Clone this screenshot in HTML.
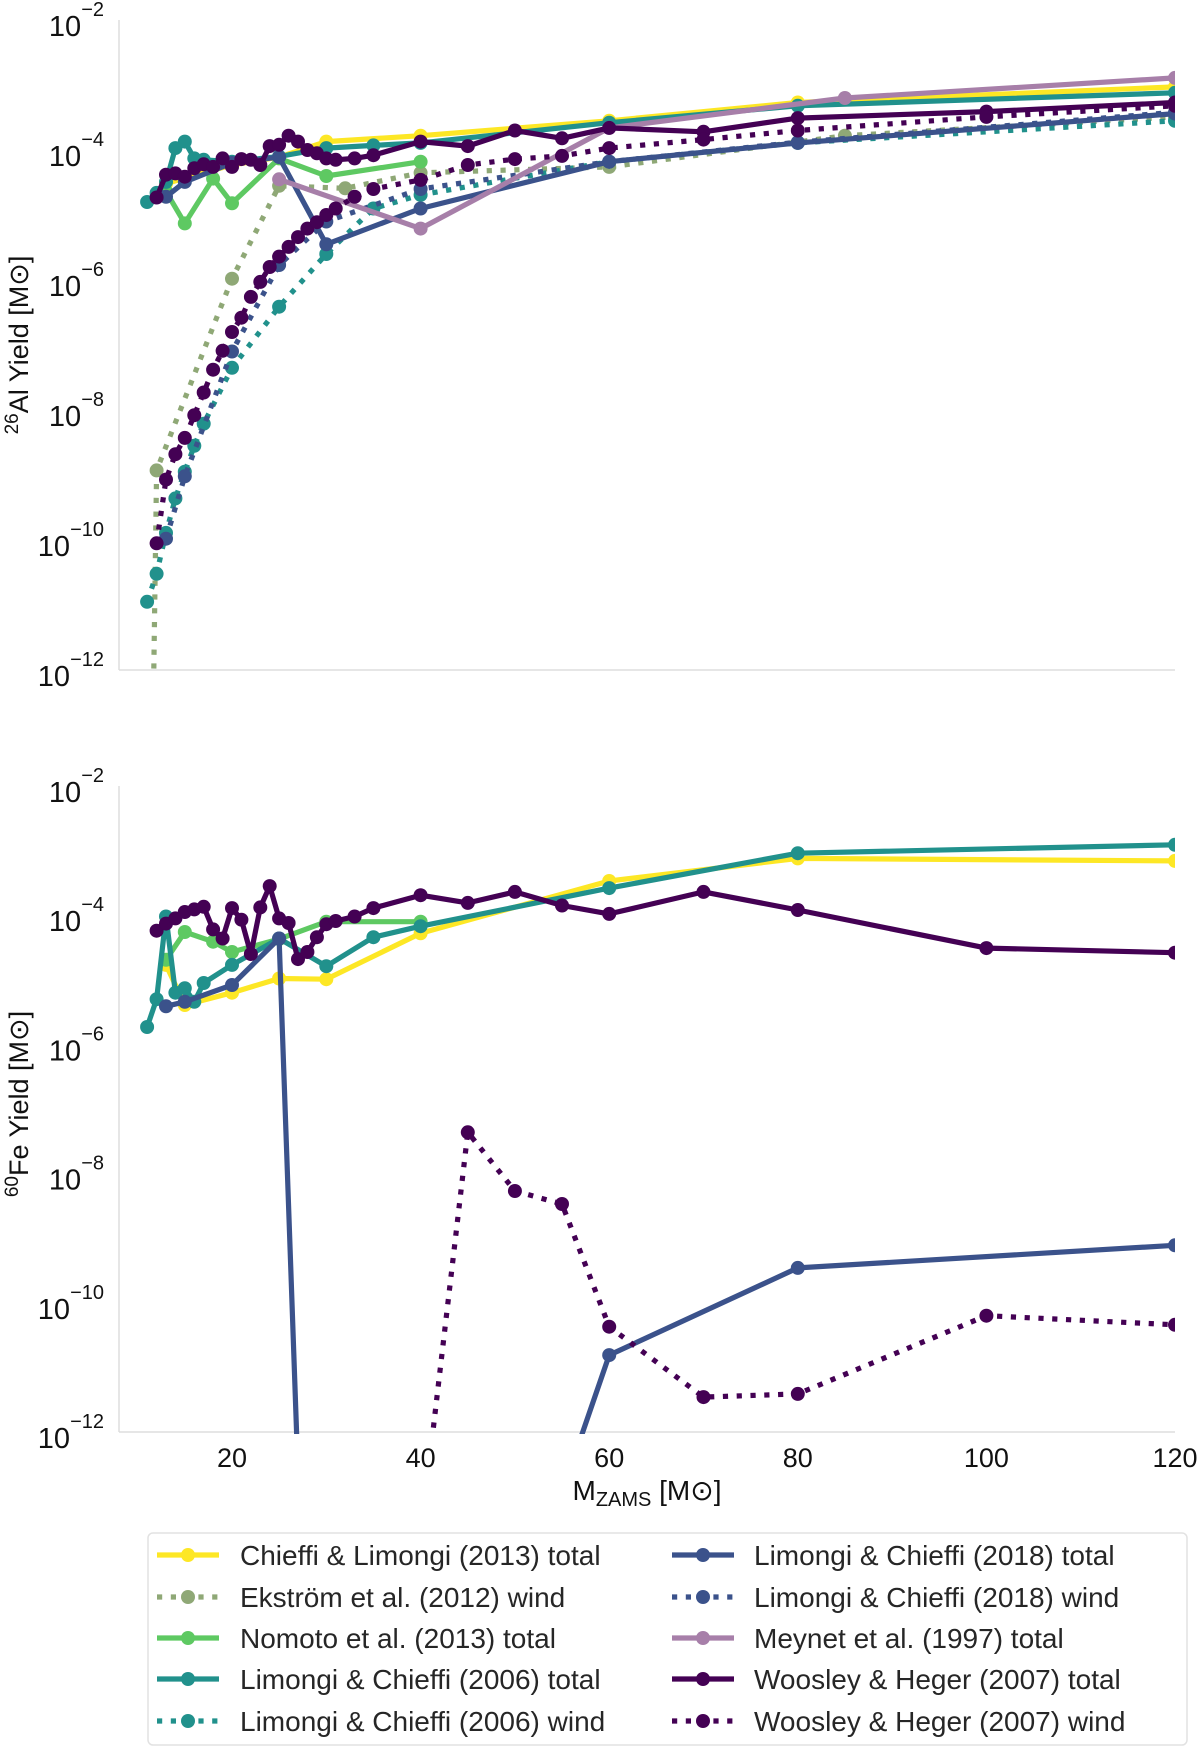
<!DOCTYPE html>
<html><head><meta charset="utf-8"><style>
html,body{margin:0;padding:0;background:#fff;overflow:hidden;width:1200px;height:1750px;}
svg{display:block;font-family:"Liberation Sans",sans-serif;}
</style></head><body>
<svg id="fig" width="1200" height="1750" viewBox="0 0 1200 1750" xmlns="http://www.w3.org/2000/svg">
<defs>
<clipPath id="clipTop"><rect x="119" y="10" width="1056" height="662"/></clipPath>
<clipPath id="clipBot"><rect x="119" y="770" width="1056" height="664"/></clipPath>
</defs>
<g id="gTop"></g>
<g id="gBot"></g>
<g id="gLegend"></g>
</svg>
<script>
// masses (M_ZAMS) and log10 yields
const chieffiM=[13,15,20,25,30,40,60,80,120];
const chieffiAl=[-4.52,-4.43,-4.23,-4.11,-3.87,-3.78,-3.55,-3.27,-3.03];
const chieffiFe=[-4.77,-5.39,-5.20,-4.98,-4.99,-4.28,-3.47,-3.12,-3.16];
const ekstromM=[9,12,20,25,32,40,60,85,120];
const ekstromWindAl=[-40,-8.93,-5.98,-4.55,-4.59,-4.35,-4.26,-3.78,-3.49];
const nomotoM=[13,15,18,20,25,30,40];
const nomotoAl=[-4.64,-5.13,-4.44,-4.82,-4.13,-4.40,-4.18];
const nomotoFe=[-4.69,-4.26,-4.41,-4.57,-4.37,-4.10,-4.10];
const lc06M=[11,12,13,14,15,16,17,20,25,30,35,40,60,80,120];
const lc06Al=[-4.80,-4.66,-4.49,-3.97,-3.87,-4.13,-4.15,-4.18,-4.10,-3.97,-3.93,-3.89,-3.58,-3.32,-3.12];
const lc06WindAl=[-10.95,-10.52,-9.89,-9.36,-8.95,-8.55,-8.21,-7.35,-6.41,-5.60,-4.90,-4.69,-4.18,-3.89,-3.55];
const lc06Fe=[-5.73,-5.30,-4.02,-5.20,-5.13,-5.34,-5.05,-4.77,-4.36,-4.79,-4.34,-4.17,-3.58,-3.04,-2.91];
const lc18M=[13,15,20,25,30,40,60,80,120];
const lc18Al=[-4.72,-4.49,-4.20,-4.11,-5.45,-4.90,-4.18,-3.89,-3.44];
const lc18WindAl=[-9.98,-9.02,-7.1,-5.77,-5.1,-4.6,-4.18,-3.88,-3.42];
const lc18Fe=[-5.41,-5.34,-5.08,-4.36,-25.0,-19.3,-10.81,-9.46,-9.11];
const meynetM=[25,40,60,85,120];
const meynetAl=[-4.45,-5.21,-3.66,-3.20,-2.89];
const whM=[12,13,14,15,16,17,18,19,20,21,22,23,24,25,26,27,28,29,30,31,33,35,40,45,50,55,60,70,80,100,120];
const whAl=[-4.73,-4.38,-4.36,-4.41,-4.28,-4.22,-4.26,-4.13,-4.26,-4.14,-4.15,-4.23,-3.94,-3.92,-3.78,-3.87,-4.00,-4.05,-4.13,-4.15,-4.13,-4.08,-3.87,-3.94,-3.70,-3.82,-3.66,-3.72,-3.51,-3.41,-3.27];
const whWindAl=[-10.05,-9.07,-8.68,-8.43,-8.08,-7.73,-7.38,-7.09,-6.80,-6.58,-6.26,-6.03,-5.80,-5.64,-5.49,-5.34,-5.21,-5.11,-5.00,-4.90,-4.72,-4.60,-4.46,-4.23,-4.14,-4.09,-3.97,-3.84,-3.70,-3.49,-3.32];
const whFe=[-4.24,-4.13,-4.05,-3.95,-3.91,-3.87,-4.22,-4.36,-3.89,-4.07,-4.60,-3.88,-3.55,-4.05,-4.12,-4.68,-4.57,-4.34,-4.14,-4.09,-4.02,-3.89,-3.69,-3.81,-3.64,-3.85,-3.98,-3.64,-3.92,-4.51,-4.58];
const whWindFeM=[40,45,50,55,60,70,80,100,120];
const whWindFe=[-13.63,-7.36,-8.27,-8.47,-10.37,-11.46,-11.41,-10.2,-10.34];
const xTicks=[20,40,60,80,100,120];
const yTickExp=[-2,-4,-6,-8,-10,-12];
const legendLabels=["Chieffi & Limongi (2013) total","Ekström et al. (2012) wind","Nomoto et al. (2013) total","Limongi & Chieffi (2006) total","Limongi & Chieffi (2006) wind","Limongi & Chieffi (2018) total","Limongi & Chieffi (2018) wind","Meynet et al. (1997) total","Woosley & Heger (2007) total","Woosley & Heger (2007) wind"];

const C={ch:"#fde725",ek:"#8fa876",no:"#5ec962",lc06:"#21918c",lc18:"#3b528b",me:"#a77fa9",wh:"#440154"};
const NS="http://www.w3.org/2000/svg";
const LW=5.2, MR=7;
function xS(m){return 232+(m-20)*9.43;}
function yTop(l){return 670-(l+12)*65;}
function yBot(l){return 1432-(l+12)*64.6;}
function mk(tag,attrs,parent){const e=document.createElementNS(NS,tag);for(const k in attrs)e.setAttribute(k,attrs[k]);parent.appendChild(e);return e;}

function series(parent,ms,vals,yf,color,dotted,name){
  const g=mk('g',{},parent);
  
  
  const pts=ms.map((m,i)=>xS(m).toFixed(1)+','+yf(vals[i]).toFixed(1)).join(' ');
  const pl=mk('polyline',{points:pts,fill:'none',stroke:color,'stroke-width':LW,'stroke-linejoin':'round'},g);
  if(dotted)pl.setAttribute('stroke-dasharray','5.2 8.6');
  
  
  ms.forEach((m,i)=>{
    const c=mk('circle',{cx:xS(m).toFixed(1),cy:yf(vals[i]).toFixed(1),r:MR,fill:color},g);
    
    
  });
}

function axes(parent,yf,top,bottom,showX){
  const l=mk('line',{x1:119,y1:top,x2:119,y2:bottom,stroke:'#dddddd','stroke-width':1.5},parent);
  
  
  const b=mk('line',{x1:119,y1:bottom,x2:1175,y2:bottom,stroke:'#dddddd','stroke-width':1.5},parent);
  
  
  yTickExp.forEach(e=>{
    const t=mk('text',{x:104,y:(yf(e)+16).toFixed(1),'text-anchor':'end','font-size':29,fill:'#111'},parent);
    
    
    t.appendChild(document.createTextNode('10'));
    const s=mk('tspan',{dy:-20,'font-size':20},t);
    s.textContent='\u2212'+(-e);
  });
  if(showX){
    xTicks.forEach(v=>{
      const t=mk('text',{x:xS(v),y:1467,'text-anchor':'middle','font-size':27,fill:'#111'},parent);
      
      
      t.textContent=v;
    });
  }
}

// top panel
const gT=document.getElementById('gTop');
axes(gT,yTop,20,670,false);
const ylT=mk('text',{transform:'translate(28,345) rotate(-90)','text-anchor':'middle','font-size':27,fill:'#111'},gT);


ylT.innerHTML='<tspan font-size="19" dy="-10">26</tspan><tspan dy="10">Al Yield [M\u2299]</tspan>';
const cT=mk('g',{'clip-path':'url(#clipTop)'},gT);
series(cT,chieffiM,chieffiAl,yTop,C.ch,false,'chieffi-2013-total-al');
series(cT,ekstromM,ekstromWindAl,yTop,C.ek,true,'ekstrom-2012-wind-al');
series(cT,nomotoM,nomotoAl,yTop,C.no,false,'nomoto-2013-total-al');
series(cT,lc06M,lc06Al,yTop,C.lc06,false,'lc2006-total-al');
series(cT,lc06M,lc06WindAl,yTop,C.lc06,true,'lc2006-wind-al');
series(cT,lc18M,lc18Al,yTop,C.lc18,false,'lc2018-total-al');
series(cT,lc18M,lc18WindAl,yTop,C.lc18,true,'lc2018-wind-al');
series(cT,meynetM,meynetAl,yTop,C.me,false,'meynet-1997-total-al');
series(cT,whM,whAl,yTop,C.wh,false,'wh2007-total-al');
series(cT,whM,whWindAl,yTop,C.wh,true,'wh2007-wind-al');

// bottom panel
const gB=document.getElementById('gBot');
axes(gB,yBot,786,1432,true);
const ylB=mk('text',{transform:'translate(28,1104) rotate(-90)','text-anchor':'middle','font-size':27,fill:'#111'},gB);


ylB.innerHTML='<tspan font-size="19" dy="-10">60</tspan><tspan dy="10">Fe Yield [M\u2299]</tspan>';
const xl=mk('text',{x:647,y:1500,'text-anchor':'middle','font-size':28,fill:'#111'},gB);


xl.innerHTML='M<tspan font-size="20" dy="6">ZAMS</tspan><tspan dy="-6"> [M\u2299]</tspan>';
const cB=mk('g',{'clip-path':'url(#clipBot)'},gB);
series(cB,chieffiM,chieffiFe,yBot,C.ch,false,'chieffi-2013-total-fe');
series(cB,nomotoM,nomotoFe,yBot,C.no,false,'nomoto-2013-total-fe');
series(cB,lc06M,lc06Fe,yBot,C.lc06,false,'lc2006-total-fe');
series(cB,lc18M,lc18Fe,yBot,C.lc18,false,'lc2018-total-fe');
series(cB,whM,whFe,yBot,C.wh,false,'wh2007-total-fe');
series(cB,whWindFeM,whWindFe,yBot,C.wh,true,'wh2007-wind-fe');

// legend
const gL=document.getElementById('gLegend');
const frame=mk('rect',{x:148,y:1533,width:1039,height:212,rx:5,fill:'#fff',stroke:'#e2e2e2','stroke-width':1.5},gL);


const legColors=[C.ch,C.ek,C.no,C.lc06,C.lc06,C.lc18,C.lc18,C.me,C.wh,C.wh];
const legDotted=[false,true,false,false,true,false,true,false,false,true];
const rowY=[1555,1597,1638,1679,1721];
legendLabels.forEach((lab,i)=>{
  const col=i<5?0:1, row=i%5;
  const hx=col?672:157, tx=col?754:240, y=rowY[row];
  const g=mk('g',{},gL);
  
  
  const ln=mk('line',{x1:hx,y1:y,x2:hx+62,y2:y,stroke:legColors[i],'stroke-width':LW},g);
  if(legDotted[i])ln.setAttribute('stroke-dasharray','5.2 8.6');
  mk('circle',{cx:hx+31,cy:y,r:MR,fill:legColors[i]},g);
  const t=mk('text',{x:tx,y:y+10,'font-size':28,fill:'#262626'},g);
  t.textContent=lab;
});
</script>
</body></html>
